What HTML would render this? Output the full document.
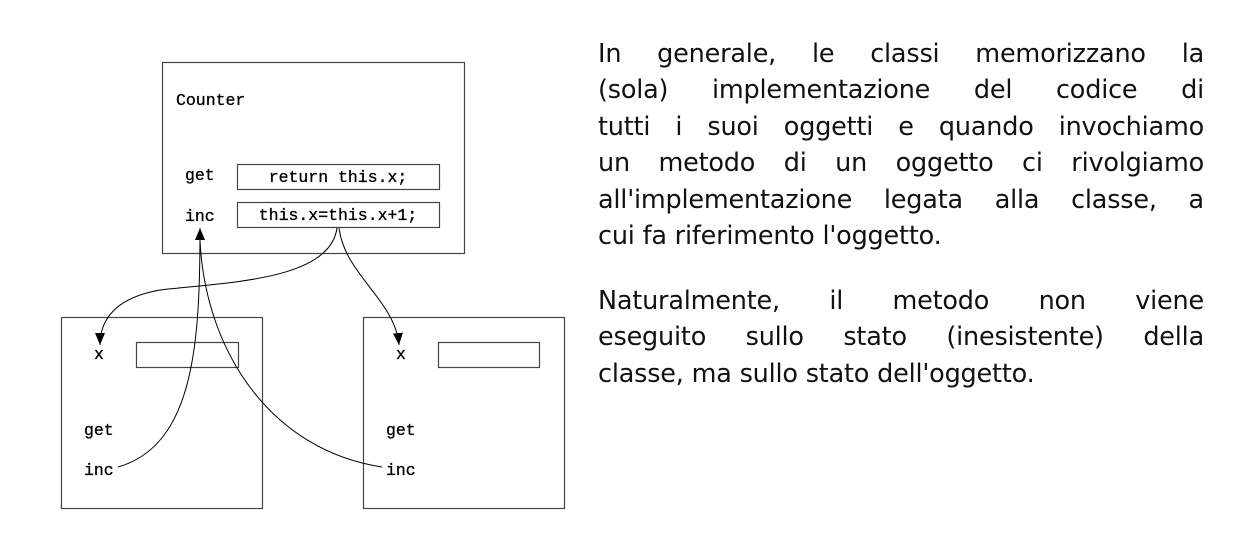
<!DOCTYPE html>
<html><head><meta charset="utf-8"><style>
body{margin:0;background:#fff;width:1237px;height:541px;overflow:hidden;position:relative}
.t{position:absolute;left:598px;width:606px;font-family:"DejaVu Sans","Liberation Sans",sans-serif;font-size:25.5px;color:#111;line-height:36.4px;letter-spacing:-0.2px}
.t div{text-align:justify;text-align-last:justify;white-space:nowrap}
.t div.l{text-align-last:left}
</style></head><body>
<svg width="1237" height="541" style="position:absolute;left:0;top:0" font-family="Liberation Mono, monospace" font-size="16.5" font-weight="bold">
<defs><marker id="a" markerWidth="13" markerHeight="10" refX="12" refY="5" orient="auto" markerUnits="userSpaceOnUse" viewBox="0 0 13 10"><path d="M0,0 L12,5 L0,10z" fill="#000"/></marker></defs>
<g fill="none" stroke="#444" stroke-width="1.2">
<rect x="162.5" y="62.5" width="302" height="191"/>
<rect x="237.5" y="164.5" width="202" height="25"/>
<rect x="237.5" y="202.5" width="202" height="25"/>
<rect x="61.5" y="317.5" width="201" height="191"/>
<rect x="363.5" y="317.5" width="201" height="191"/>
<rect x="136.5" y="342.5" width="102" height="25"/>
<rect x="438.5" y="342.5" width="101" height="25"/>
</g>
<g fill="#000" style="font-weight:normal" stroke="#000" stroke-width="0.3">
<text x="176" y="105">Counter</text>
<text x="185" y="180">get</text>
<text x="185" y="221">inc</text>
<text x="338" y="182" text-anchor="middle">return this.x;</text>
<text x="338" y="220" text-anchor="middle">this.x=this.x+1;</text>
<text x="94" y="359">x</text>
<text x="84" y="435">get</text>
<text x="84" y="475">inc</text>
<text x="396" y="359">x</text>
<text x="386" y="435">get</text>
<text x="386" y="475">inc</text>
</g>
<g fill="none" stroke="#000" stroke-width="1">
<path d="M337,228 C330,280 230,282 160,290 C115,298 100,320 100,345" marker-end="url(#a)"/>
<path d="M339,228 C345,275 395,300 399,345" marker-end="url(#a)"/>
<path d="M118,467 C195,445 200,340 200,228" marker-end="url(#a)"/>
<path d="M382,467 C270,450 205,350 200,240"/>
</g>
</svg>
<div class="t" style="top:36px">
<div>In generale, le classi memorizzano la</div>
<div>(sola) implementazione del codice di</div>
<div>tutti i suoi oggetti e quando invochiamo</div>
<div>un metodo di un oggetto ci rivolgiamo</div>
<div>all'implementazione legata alla classe, a</div>
<div class="l">cui fa riferimento l'oggetto.</div>
</div>
<div class="t" style="top:283px">
<div>Naturalmente, il metodo non viene</div>
<div>eseguito sullo stato (inesistente) della</div>
<div class="l">classe, ma sullo stato dell'oggetto.</div>
</div>
</body></html>
